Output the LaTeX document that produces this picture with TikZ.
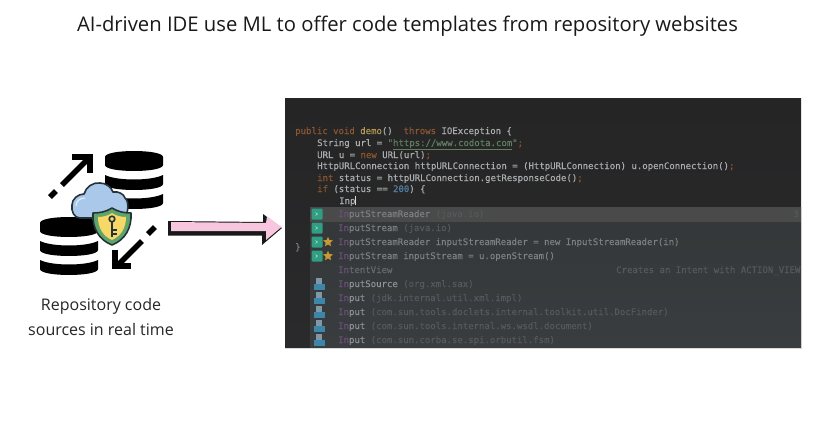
\documentclass[tikz,border=0pt]{standalone}
\usepackage{fontspec}
\setmainfont{Open Sans}
\setmonofont[Ligatures=NoCommon,FakeBold=0.2]{DejaVu Sans Mono}
\definecolor{edbg}{HTML}{2A2A2C}
\definecolor{edtop}{HTML}{252526}
\definecolor{popbg}{HTML}{3A3D3F}
\definecolor{popsel}{HTML}{4A4A4A}
\definecolor{cplain}{HTML}{A9ADAF}
\definecolor{ckey}{HTML}{8A5632}
\definecolor{cfun}{HTML}{B59A55}
\definecolor{cstr}{HTML}{5F7F5F}
\definecolor{cnum}{HTML}{527FA6}
\definecolor{cin}{HTML}{6A4E78}
\definecolor{cname}{HTML}{7C8082}
\definecolor{cbright}{HTML}{8E9294}
\definecolor{cdim}{HTML}{55595B}
\definecolor{gicon}{HTML}{2F9E83}
\definecolor{bicon}{HTML}{3E86A8}
\definecolor{bicontop}{HTML}{7F97A6}
\definecolor{gstar}{HTML}{C79A35}
\definecolor{pinkarrow}{HTML}{F9C6DF}
\definecolor{cloudblue}{HTML}{A9C8EA}
\definecolor{darkline}{HTML}{25343A}
\definecolor{shgreen}{HTML}{5FA56B}
\definecolor{shyellow}{HTML}{F7D765}
\tikzset{
  x=1pt,y=-1pt,
  titletext/.style={inner sep=0,font=\fontsize{20.25}{24}\selectfont,text=black!90},
  captext/.style={inner sep=0,font=\fontsize{16}{19}\selectfont,text=black!85},
  code/.style={inner sep=0,anchor=base west,font=\ttfamily\fontsize{9}{10}\selectfont,text=cplain},
  row/.style={code,text=cname},
  gbadge/.style={fill=gicon,rounded corners=1pt},
  starmark/.style={fill=gstar},
  dbicon/.pic={
    \fill[black] (0,6) .. controls (0,-2) and (58,-2) .. (58,6) -- (58,14) .. controls (58,22) and (0,22) .. (0,14) -- cycle;
    \fill[black] (0,24) .. controls (12,30) and (46,30) .. (58,24) -- (58,33) .. controls (58,41) and (0,41) .. (0,33) -- cycle;
    \fill[black] (0,43) .. controls (12,49) and (46,49) .. (58,43) -- (58,52) .. controls (58,60) and (0,60) .. (0,52) -- cycle;
  },
  blueicon/.pic={
    \fill[bicontop] (-3,-6) rectangle (3,-0.5);
    \fill[bicon] (-5.5,0) rectangle (5.5,5.5);
  },
  greenicon/.pic={
    \fill[gbadge] (-5.5,-5.5) rectangle (5.5,5.5);
    \draw[white!70!gicon,line width=.5pt] (-1.5,-1.5) -- (0.5,0) -- (-1.5,1.5);
  },
  stariconpic/.pic={
    \fill[starmark] (-90:5.2) -- (-54:2.4) -- (-18:5.2) -- (18:2.4) -- (54:5.2) -- (90:2.4) -- (126:5.2) -- (162:2.4) -- (198:5.2) -- (234:2.4) -- cycle;
  },
}
\newcommand\ci[1]{\textcolor{cin}{#1}}
\newcommand\cd[1]{\textcolor{cdim}{#1}}
\newcommand\ck[1]{\textcolor{ckey}{#1}}
\newcommand\cb[1]{\textcolor{cbright}{#1}}
\begin{document}
\begin{tikzpicture}
\useasboundingbox (0,0) rectangle (815,423);
\fill[white] (0,0) rectangle (815,423);

% title and caption
\node[titletext] (title) at (407.5,26) {AI-driven IDE use ML to offer code templates from repository websites};
\node[captext] (cap1) at (101,306.5) {Repository code};
\node[captext] (cap2) at (101,329) {sources in real time};

% databases
\pic at (105,151) {dbicon};
\pic at (40,217) {dbicon};

% dashed arrows
\draw[black,line width=5.5pt] (50,197) -- (56,191);
\draw[black,line width=5.5pt] (62,185) -- (87,160);
\draw[black,line width=5.5pt,miter limit=10] (72,157) -- (90,157) -- (90,173);
\draw[black,line width=5.5pt] (155,227) -- (148,234);
\draw[black,line width=5.5pt] (142,241) -- (118,265);
\draw[black,line width=5.5pt,miter limit=10] (115,250) -- (115,266) -- (131,266);

% cloud
\draw[darkline,line width=1.6pt,fill=cloudblue,line join=round]
  (80,218) .. controls (74,218) and (71,211) .. (72,205)
  .. controls (72,199) and (78,194) .. (84,194)
  .. controls (86,187) and (93,182) .. (100,183)
  .. controls (106,183) and (111,187) .. (113,192)
  .. controls (118,191) and (124,194) .. (125,198)
  .. controls (129,201) and (129,213) .. (124,218) -- cycle;
\draw[white!75!cloudblue,line width=1pt,line cap=round] (76,206) .. controls (76,201) and (80,198) .. (85,198);

% shield
\draw[darkline,line width=1.6pt,fill=shgreen,line join=round]
  (112,208) .. controls (118,212) and (125,213) .. (131,213)
  .. controls (132,228) and (125,240) .. (112,245)
  .. controls (99,240) and (92,228) .. (93,213)
  .. controls (99,213) and (106,212) .. (112,208) -- cycle;
\fill[shyellow]
  (112,213) .. controls (116,216) and (122,217) .. (126,217)
  .. controls (126,228) and (121,236) .. (112,240)
  .. controls (103,236) and (98,228) .. (98,217)
  .. controls (102,217) and (108,216) .. (112,213) -- cycle;
\draw[darkline,line width=1.6pt] (112,219) circle[radius=2.8];
\draw[darkline,line width=1.8pt] (112,222) -- (112,237) (112,230) -- (117,230) (112,234) -- (117,234);

% big arrow
\fill[black!90] (168,221) -- (263,222) -- (263,214) -- (282,228) -- (262,245) -- (262,235.5) -- (168,235.5) -- cycle;
\fill[pinkarrow] (171,222) -- (266,223) -- (267,216.5) -- (281.5,227) -- (266,240) -- (266,231) -- (171,231) -- cycle;

% screenshot
\fill[top color=edtop,bottom color=edbg] (285,98) rectangle (801,348);
\fill[top color=popbg!90!black,bottom color=popbg] (310,207) rectangle (801,348);
\fill[popsel] (310,207) rectangle (801,222);
\draw[white!85!black,line width=.4pt] (285,348) -- (801,348);

\begin{scope}
\clip (285,98) rectangle (800.5,348);
\node[code] (l1) at (295,134) {\ck{public void} \textcolor{cfun}{demo}()\ \ \ck{throws} IOException \{};
\node[code] (l2) at (317,146) {String url = \textcolor{cstr}{"\underline{https://www.codota.com}"}\ck{;}};
\node[code] (l3) at (317,158) {URL u = \ck{new} URL(url)\ck{;}};
\node[code] (l4) at (317,169) {HttpURLConnection httpURLConnection = (HttpURLConnection) u.openConnection()\ck{;}};
\node[code] (l5) at (317,181) {\ck{int} status = httpURLConnection.getResponseCode()\ck{;}};
\node[code] (l6) at (317,192) {\ck{if} (status == \textcolor{cnum}{200}) \{};
\node[code] (l7) at (339,204) {Inp};
\draw[white!85!black,line width=.8pt] (355.5,196) -- (355.5,205);
\node[code,text=cname] (brace) at (295,250) {\}};

\node[row] (r1) at (338,217) {\ci{In}putStreamReader \cd{(java.io)}};
\node[row,text=cdim] (r1b) at (793,217) {3:};
\node[row] (r2) at (338,231) {\ci{In}putStream \cd{(java.io)}};
\node[row] (r3) at (338,245) {\ci{In}putStreamReader inputStreamReader = new InputStreamReader(in)};
\node[row] (r4) at (338,259) {\ci{In}putStream inputStream = u.openStream()};
\node[row] (r5) at (338,273) {\ci{In}\textcolor{cdim!90!white}{tentView}};
\node[row,text=cdim] (r5b) at (616,273) {Creates an Intent with ACTION\_VIEW};
\node[row] (r6) at (338,287) {\ci{In}\cb{putSource} \cd{(org.xml.sax)}};
\node[row] (r7) at (338,301) {\ci{In}\cb{put} \cd{(jdk.internal.util.xml.impl)}};
\node[row] (r8) at (338,315) {\ci{In}\cb{put} \cd{(com.sun.tools.doclets.internal.toolkit.util.DocFinder)}};
\node[row] (r9) at (338,329) {\ci{In}\cb{put} \cd{(com.sun.tools.internal.ws.wsdl.document)}};
\node[row] (r10) at (338,343) {\ci{In}\cb{put} \cd{(com.sun.corba.se.spi.orbutil.fsm)}};

\pic at (317,214) {greenicon};
\pic at (317,228) {greenicon};
\pic at (317,242) {greenicon};
\pic at (317,256) {greenicon};
\pic at (328,242) {stariconpic};
\pic at (328,256) {stariconpic};
\pic at (319,284) {blueicon};
\pic at (319,298) {blueicon};
\pic at (319,312) {blueicon};
\pic at (319,326) {blueicon};
\pic at (319,340) {blueicon};
\end{scope}
\end{tikzpicture}
\end{document}
